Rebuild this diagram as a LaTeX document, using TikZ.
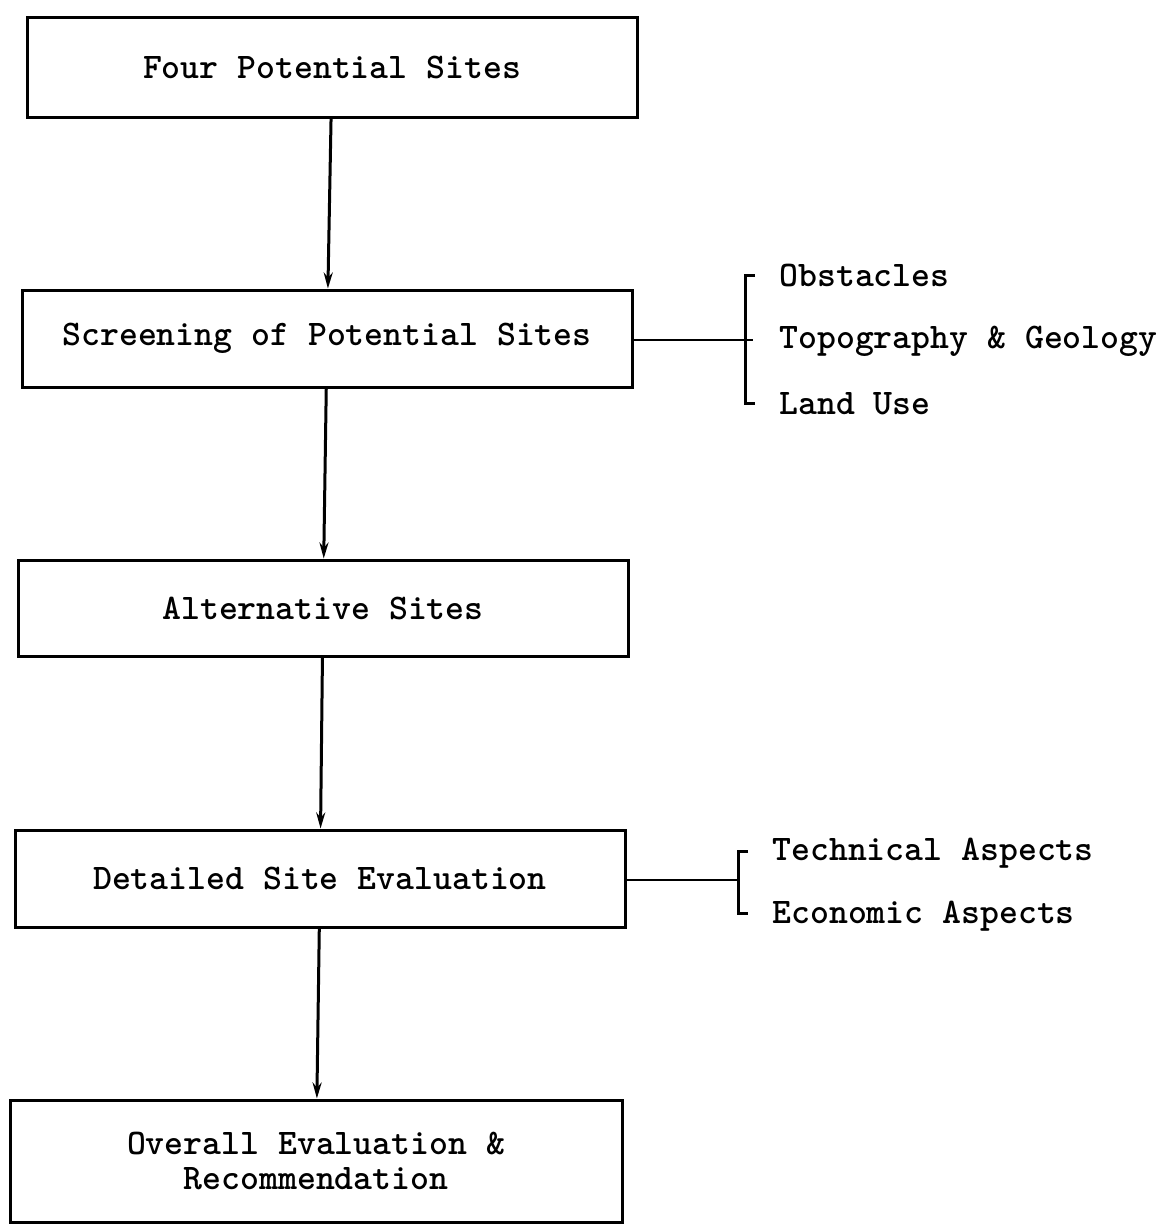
\documentclass[tikz,border=0pt]{standalone}
\usepackage{fontspec}
\usetikzlibrary{arrows.meta}
\begin{document}
\begin{tikzpicture}[x=0.5pt,y=-0.5pt,
  every node/.style={font=\ttfamily\bfseries\fontsize{18}{17.5}\selectfont, inner sep=0pt},
  stepbox/.style={draw, line width=1.5pt, minimum width=305pt, align=center},
  flow/.style={line width=1.5pt, -{Stealth[length=8pt,width=4.5pt]}},
  link/.style={line width=1.1pt},
  brace/.style={line width=1.5pt},
  lbl/.style={anchor=west}]
\useasboundingbox (0,0) rectangle (1170,1227);
\node[stepbox, minimum height=50pt] (b1) at (332,67) {Four Potential Sites};
\node[stepbox, minimum height=48.5pt] (b2) at (327,338.5) {Screening of Potential Sites};
\node[stepbox, minimum height=48pt] (b3) at (323,608) {Alternative Sites};
\node[stepbox, minimum height=48.5pt] (b4) at (320,878.5) {Detailed Site Evaluation};
\node[stepbox, minimum width=306pt, minimum height=61pt] (b5) at (316,1161) {Overall Evaluation \&\\Recommendation};
\draw[flow] (b1) -- (b2);
\draw[flow] (b2) -- (b3);
\draw[flow] (b3) -- (b4);
\draw[flow] (b4) -- (b5);
% bracket 1
\coordinate (c1) at (753,340);
\draw[link] (b2.east |- c1) -- (c1);
\draw[brace] (755,275) -- (745,275) -- (745,403) -- (755,403);
\node[lbl] (o1) at (779,275) {Obstacles};
\node[lbl] (o2) at (779,341) {Topography \& Geology};
\node[lbl] (o3) at (779,404) {Land Use};
% bracket 2
\coordinate (c2) at (738,880);
\draw[link] (b4.east |- c2) -- (c2);
\draw[brace] (748,851) -- (738,851) -- (738,913) -- (748,913);
\node[lbl] (t1) at (772,853) {Technical Aspects};
\node[lbl] (t2) at (772,916) {Economic Aspects};
\end{tikzpicture}
\end{document}
